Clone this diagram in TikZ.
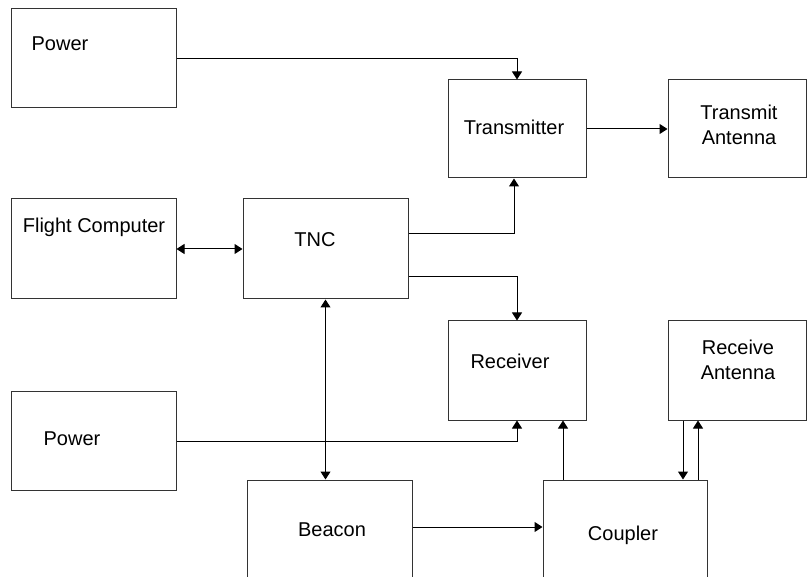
\documentclass[tikz,border=0pt]{standalone}
\usepackage{fontspec}
\setmainfont{Liberation Sans}
\usepackage{tikz}
\usetikzlibrary{arrows.meta}

\begin{document}
\begin{tikzpicture}[x=1pt, y=-1pt,
    blk/.style={draw=black!80, line width=1pt, inner sep=0pt},
    wide/.style={minimum width=165pt},
    narrow/.style={minimum width=138pt},
    lbl/.style={inner sep=0pt, font=\fontsize{20}{25}\selectfont, text height=14.3pt, text depth=0pt},
    arr/.style={line width=1pt, -{Triangle[length=8pt, width=10pt]}},
    darr/.style={line width=1pt, {Triangle[length=8pt, width=10pt]}-{Triangle[length=8pt, width=10pt]}}]
  % Frame
  \useasboundingbox (0,0) rectangle (809,577);

  % Blocks
  \node[blk, wide, minimum height=99pt] (powA) at (93.5,58.5) {};
  \node[blk, wide, minimum height=100pt] (fc) at (93.5,249) {};
  \node[blk, wide, minimum height=100pt] (tnc) at (325.5,249) {};
  \node[blk, narrow, minimum height=98pt] (tx) at (517,129) {};
  \node[blk, narrow, minimum height=98pt] (ta) at (737,129) {};
  \node[blk, narrow, minimum height=99pt] (rx) at (517,370.5) {};
  \node[blk, narrow, minimum height=99pt] (ra) at (737,370.5) {};
  \node[blk, wide, minimum height=98pt] (powB) at (93.5,441) {};
  \node[blk, wide, minimum height=100pt] (bcn) at (329.5,530) {};
  \node[blk, minimum width=164pt, minimum height=100pt] (cpl) at (625,530) {};

  % Labels
  \node[lbl] (powAtxt) at (60,43) {Power};
  \node[lbl] (fctxt) at (94,225) {Flight Computer};
  \node[lbl] (tnctxt) at (315,239) {TNC};
  \node[lbl] (txtxt) at (514,127) {Transmitter};
  \node[lbl, align=center] (tatxt) at (739,137) {Transmit\\Antenna};
  \node[lbl] (rxtxt) at (510,361) {Receiver};
  \node[lbl, align=center] (ratxt) at (738,372) {Receive\\Antenna};
  \node[lbl] (powBtxt) at (72,438) {Power};
  \node[lbl] (bcntxt) at (332,529) {Beacon};
  \node[lbl] (cpltxt) at (623,533) {Coupler};

  % Power and transmit side
  \draw[arr] (powA.east) -| (tx.north);
  \draw[arr] (tx.east) -- (ta.west);
  \draw[darr] (fc.east) -- (tnc.west);
  \draw[arr] ([yshift=15pt]tnc.east) -| ([xshift=-3pt]tx.south);
  \draw[arr] ([yshift=-28pt]tnc.east) -| (rx.north);

  % Receive side
  \draw[darr] (tnc.south) -- (tnc.south |- bcn.north);
  \draw[arr] (powB.east) -| (rx.south);
  \draw[arr] ([yshift=3pt]bcn.east) -- ([yshift=3pt]cpl.west);
  \draw[arr] ([xshift=-62pt]cpl.north) -- ([xshift=-62pt]cpl.north |- rx.south);
  \draw[arr] ([xshift=-54pt]ra.south) -- ([xshift=-54pt]ra.south |- cpl.north);
  \draw[arr] ([xshift=-39pt]ra.south |- cpl.north) -- ([xshift=-39pt]ra.south);

\end{tikzpicture}
\end{document}
